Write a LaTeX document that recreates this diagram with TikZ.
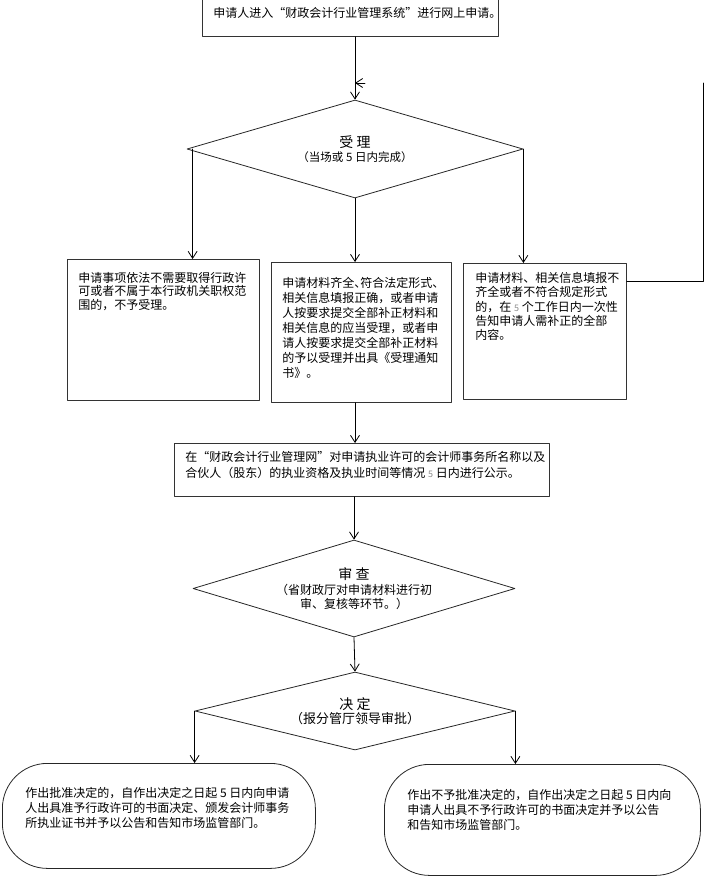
\documentclass[tikz,border=0pt]{standalone}
\usepackage{fontspec}
\setmainfont{Noto Sans CJK SC}
\usetikzlibrary{arrows.meta}
\usetikzlibrary{shapes.geometric}
\newcommand{\dun}{\makebox[6pt][l]{、}}
\newcommand{\graynum}[1]{{\color{black!45}\fontsize{9}{9}\selectfont #1}}
\tikzset{
  stepbox/.style={draw=black!80, line width=0.8pt, anchor=north west, inner xsep=11pt, font=\fontsize{12}{14}\selectfont},
  choice/.style={diamond, draw=black!85, line width=0.8pt, inner sep=0pt, align=center, font=\fontsize{12}{14}\selectfont},
  endbox/.style={draw=black!85, line width=0.8pt, rounded corners=45pt, anchor=north west, inner xsep=23pt, font=\fontsize{12}{15}\selectfont},
  flow/.style={->, line width=0.8pt}
}
\begin{document}
\begin{tikzpicture}[line cap=round,line join=round,>={Straight Barb[length=7pt,width=9pt]},x=1pt,y=-1pt]
\useasboundingbox (0,0) rectangle (704,876);
\node[stepbox, inner ysep=8pt] (apply) at (202,-1) {\parbox[c][21pt][t]{274pt}{\centering 申请人进入“财政会计行业管理系统”进行网上申请。}};
\node[choice, minimum width=336pt, minimum height=98pt, aspect=3.4] (accept) at (355,149) {{\fontsize{14}{16}\selectfont 受 理}\\{\fontsize{11.5}{14}\selectfont （当场或 5 日内完成）}};
\node[stepbox, inner ysep=13pt] (reject) at (67,259) {\parbox[c][115pt][t]{170pt}{\fontsize{12}{13.5}\selectfont\raggedright 申请事项依法不需要取得行政许\\可或者不属于本行政机关职权范\\围的，不予受理。}};
\node[stepbox, inner ysep=15pt] (complete) at (271,262) {\parbox[c][110pt][t]{158pt}{\fontsize{12}{15}\selectfont\raggedright 申请材料齐全\dun 符合法定形式\dun\\相关信息填报正确，或者申请\\人按要求提交全部补正材料和\\相关信息的应当受理，或者申\\请人按要求提交全部补正材料\\的予以受理并出具《受理通知\\书》。}};
\node[stepbox, inner xsep=12pt, inner ysep=9pt] (info) at (463,263) {\parbox[c][118pt][t]{139pt}{\fontsize{12}{14.2}\selectfont\raggedright 申请材料、相关信息填报不\\齐全或者不符合规定形式\\\mbox{的，在 \graynum{5} 个工作日内一次性}\\告知申请人需补正的全部\\内容。}};
\node[stepbox, inner ysep=8pt] (publicity) at (174,443) {\parbox[c][37pt][t]{353pt}{\fontsize{12}{16}\selectfont\raggedright 在“财政会计行业管理网”对申请执业许可的会计师事务所名称以及\\合伙人（股东）的执业资格及执业时间等情况 \graynum{5} 日内进行公示。}};
\node[choice, minimum width=322pt, minimum height=97pt, aspect=3.3] (review) at (354,588.5) {{\fontsize{14}{16}\selectfont 审 查}\\[1pt]{\fontsize{12}{12.5}\selectfont （省财政厅对申请材料进行初}\\{\fontsize{12}{12.5}\selectfont 审、复核等环节。）}};
\node[choice, minimum width=320pt, minimum height=78pt, aspect=4.1] (decide) at (355,711) {{\fontsize{14}{16}\selectfont 决 定}\\{\fontsize{13}{16}\selectfont （报分管厅领导审批）}};
\node[endbox, inner ysep=24pt] (approve) at (2,763) {\parbox[c][57pt][t]{267pt}{\raggedright 作出批准决定的，自作出决定之日起 5 日内向申请\\人出具准予行政许可的书面决定、颁发会计师事务\\所执业证书并予以公告和告知市场监管部门。}};
\node[endbox, inner ysep=25pt] (deny) at (384,764) {\parbox[c][61pt][t]{270pt}{\raggedright 作出不予批准决定的，自作出决定之日起 5 日内向\\申请人出具不予行政许可的书面决定并予以公告\\和告知市场监管部门。}};
\coordinate (leftdrop) at ([xshift=6pt]accept.west);
\coordinate (loopcorner) at (703,281);
\coordinate (looptop) at (703,83);
\coordinate (loopend) at (accept.north |- looptop);
\draw[flow] (apply.south -| accept.north) -- (accept.north);
\draw[flow] (leftdrop) -- (leftdrop |- reject.north);
\draw[flow] (accept.south) -- (accept.south |- complete.north);
\draw[flow] (accept.east) -- (accept.east |- info.north);
\draw[line width=0.8pt] (info.east |- loopcorner) -- (loopcorner) -- (looptop);
\draw[flow] ([xshift=10pt]loopend) -- (loopend);
\draw[flow] (complete.south -| accept.south) -- (publicity.north -| accept.south);
\draw[flow] (publicity.south -| review.north) -- (review.north);
\draw[flow] (review.south) -- (decide.north);
\draw[flow] (decide.west) -- (decide.west |- approve.north);
\draw[flow] (decide.east) -- (decide.east |- deny.north);
\end{tikzpicture}
\end{document}
